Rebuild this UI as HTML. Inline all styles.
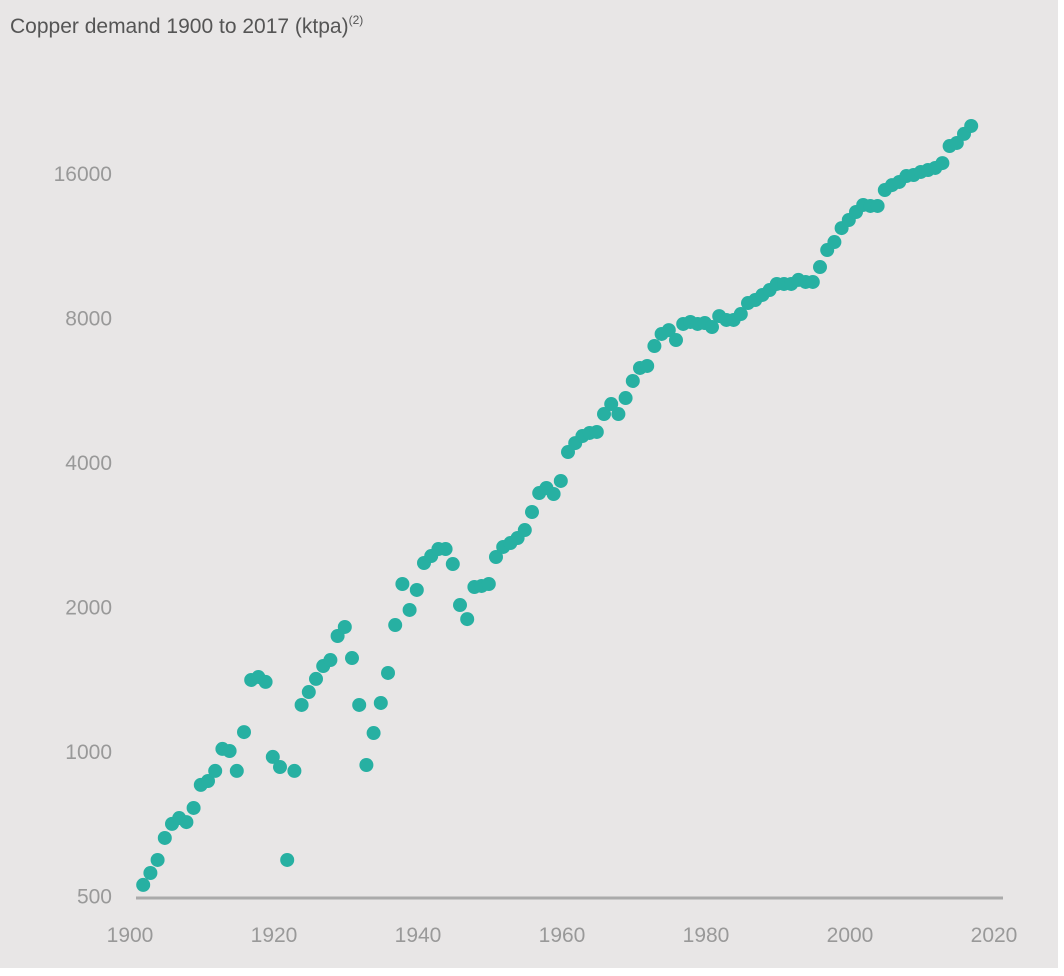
<!DOCTYPE html>
<html><head><meta charset="utf-8"><style>
html,body{margin:0;padding:0;background:#fff}
svg{display:block;font-family:"Liberation Sans",sans-serif}
</style></head><body>
<svg width="1064" height="976">
<rect x="0" y="0" width="1058" height="968" fill="#e8e6e6"/>
<text x="10" y="33" font-size="21" fill="#555">Copper demand 1900 to 2017 (ktpa)<tspan font-size="12" dy="-9">(2)</tspan></text>
<line x1="136" y1="898" x2="1003" y2="898" stroke="#aaa" stroke-width="3"/>
<g id="yt"></g>
<g id="xt"></g>
<g id="pts"></g>
</svg>
<script>
const startYear = 1901;
const demand = [526,557,593,659,705,725,711,761,850,866,909,1010,1000,909,1095,1406,1426,1393,972,926,593,909,1247,1327,1413,1503,1547,1736,1813,1562,1247,935,1090,1259,1454,1830,2228,1967,2165,2464,2548,2635,2635,2452,2014,1883,2196,2207,2228,2536,2661,2712,2778,2886,3147,3447,3531,3431,3652,4196,4380,4531,4598,4620,5035,5282,5035,5437,5900,6280,6340,6977,7392,7532,7181,7755,7830,7755,7792,7642,8055,7906,7906,8134,8574,8700,8913,9127,9396,9396,9396,9580,9487,9487,10190,11057,11490,12285,12770,13270,13726,13660,13660,14745,15100,15325,15770,15845,16080,16230,16390,16780,18210,18480,19300,20050];
const yTicks = [500,1000,2000,4000,8000,16000];
const xTicks = [1900,1920,1940,1960,1980,2000,2020];
const NS = "http://www.w3.org/2000/svg";
function xs(yr){return 136 + 7.2*(yr-1900);}
function ys(v){return 751 - 144.5*Math.log2(v/1000);}
const yt = document.getElementById('yt');
yTicks.forEach(v=>{
  const t=document.createElementNS(NS,'text');
  t.setAttribute('x',112);t.setAttribute('y',ys(v)+8);
  t.setAttribute('text-anchor','end');t.setAttribute('font-size','21');t.setAttribute('fill','#999');
  t.textContent=v;
  
  
  yt.appendChild(t);
});
const xt = document.getElementById('xt');
xTicks.forEach(v=>{
  const t=document.createElementNS(NS,'text');
  t.setAttribute('x',xs(v)-6);t.setAttribute('y',942);
  t.setAttribute('text-anchor','middle');t.setAttribute('font-size','21');t.setAttribute('fill','#999');
  t.textContent=v;
  
  
  xt.appendChild(t);
});
const pts = document.getElementById('pts');
demand.forEach((v,i)=>{
  const c=document.createElementNS(NS,'circle');
  c.setAttribute('cx',xs(startYear+i));c.setAttribute('cy',ys(v));
  c.setAttribute('r',7);c.setAttribute('fill','#27b0a2');
  
  
  pts.appendChild(c);
});
</script>
</body></html>
